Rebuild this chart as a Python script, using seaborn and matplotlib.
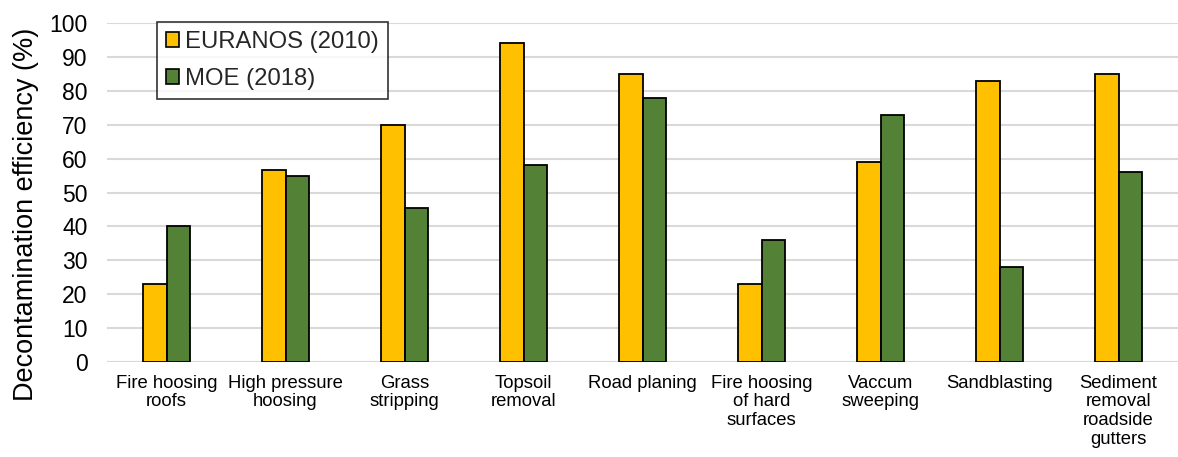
import matplotlib
matplotlib.use("Agg")
import matplotlib.pyplot as plt
import seaborn as sns
import pandas as pd

categories = [
    "Fire hoosing\nroofs",
    "High pressure\nhoosing",
    "Grass\nstripping",
    "Topsoil\nremoval",
    "Road planing",
    "Fire hoosing\nof hard\nsurfaces",
    "Vaccum\nsweeping",
    "Sandblasting",
    "Sediment\nremoval\nroadside\ngutters",
]
euranos_2010 = [23, 56.5, 70, 94, 85, 23, 59, 83, 85]
moe_2018 = [40, 55, 45.5, 58, 78, 36, 73, 28, 56]
series_names = ["EURANOS (2010)", "MOE (2018)"]
series_colors = ["#FFC000", "#538135"]

df = pd.DataFrame({
    "category": categories * 2,
    "value": euranos_2010 + moe_2018,
    "series": [series_names[0]] * len(categories) + [series_names[1]] * len(categories),
})

sns.set_theme(style="white")
plt.rcParams["font.family"] = ["Liberation Sans", "DejaVu Sans"]

W, H = 1178, 457
fig = plt.figure(figsize=(W / 100, H / 100), dpi=100)
ax = fig.add_axes([107 / W, 1 - 362 / H, 1 - 107 / W, (362 - 23) / H])

sns.barplot(
    data=df, x="category", y="value", hue="series",
    palette=series_colors, saturation=1, width=0.4, dodge=True, gap=0,
    edgecolor="black", linewidth=1.3, ax=ax, zorder=3,
)

ax.set_ylim(0, 100)
ax.set_yticks(range(0, 101, 10))
ax.set_xlim(-0.5, len(categories) - 0.5)
ax.yaxis.grid(True, color="#D9D9D9", linewidth=1.5, zorder=0)
ax.set_axisbelow(True)
for s in ax.spines.values():
    s.set_visible(False)
ax.axhline(0, color="#D9D9D9", linewidth=1.5, zorder=1)

ax.tick_params(axis="y", length=0, pad=14, labelsize=16.5, labelcolor="black")
ax.tick_params(axis="x", length=0, pad=9, labelsize=13.3, labelcolor="black")
for t in ax.get_xticklabels():
    t.set_linespacing(1.15)
ax.set_xlabel("")
ax.set_ylabel("Decontamination efficiency (%)", fontsize=19.5, color="black")
ax.yaxis.set_label_coords(-0.076, 0.434)
ax.yaxis.label.set_verticalalignment("center")

leg = ax.legend(
    loc="upper left", bbox_to_anchor=(157 / W, 1 - 22 / H),
    bbox_transform=fig.transFigure, borderaxespad=0,
    fontsize=17.2, frameon=True, fancybox=False, edgecolor="black",
    handlelength=0.55, handleheight=0.55, handletextpad=0.25,
    labelspacing=0.62, borderpad=0.38, title=None,
)
leg.get_frame().set_linewidth(1.2)
for h in leg.legend_handles:
    h.set_edgecolor("black")
    h.set_linewidth(1.2)

fig.savefig("out.png", dpi=100)
